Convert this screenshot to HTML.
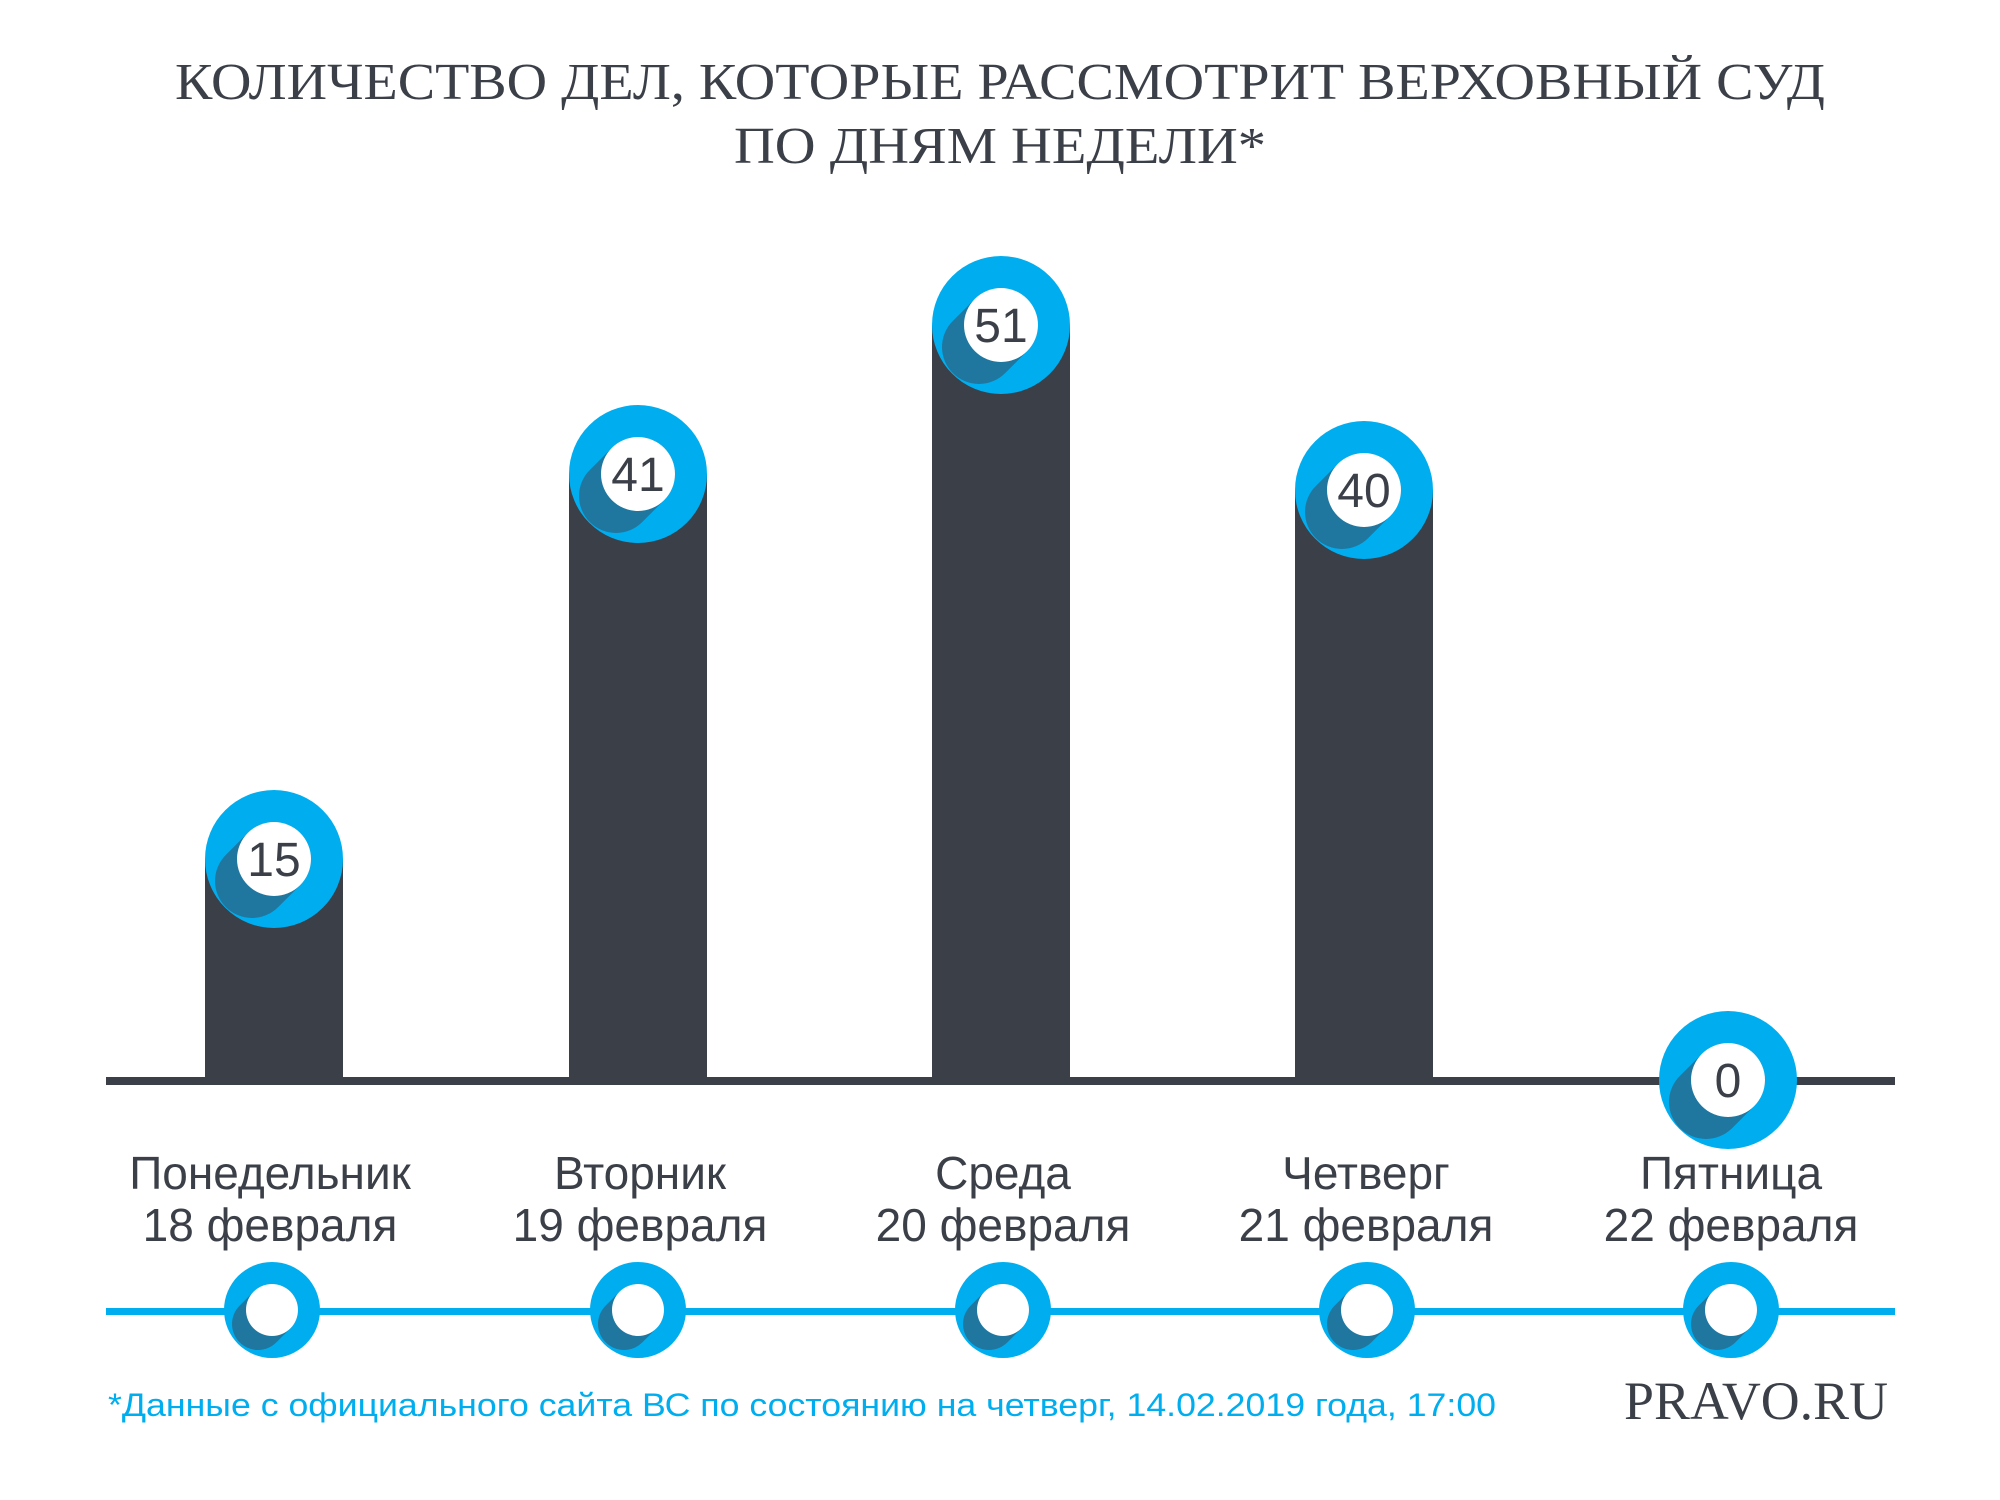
<!DOCTYPE html>
<html><head><meta charset="utf-8"><style>html,body{margin:0;padding:0;background:#fff}svg{display:block}</style></head>
<body>
<svg width="2000" height="1500" viewBox="0 0 2000 1500" xmlns="http://www.w3.org/2000/svg">
<defs>
<clipPath id="c1"><circle cx="274" cy="862" r="69"/></clipPath>
<clipPath id="c2"><circle cx="638" cy="477" r="69"/></clipPath>
<clipPath id="c3"><circle cx="1001" cy="328" r="69"/></clipPath>
<clipPath id="c4"><circle cx="1364" cy="493" r="69"/></clipPath>
<clipPath id="c5"><circle cx="1728" cy="1083" r="69"/></clipPath>
<clipPath id="s1"><circle cx="272" cy="1313" r="48"/></clipPath>
<clipPath id="s2"><circle cx="638" cy="1313" r="48"/></clipPath>
<clipPath id="s3"><circle cx="1003" cy="1313" r="48"/></clipPath>
<clipPath id="s4"><circle cx="1367" cy="1313" r="48"/></clipPath>
<clipPath id="s5"><circle cx="1731" cy="1313" r="48"/></clipPath>
</defs>
<g font-family="Liberation Serif, serif" fill="#3b3f48" font-size="52" text-anchor="middle">
<text x="1000" y="99" textLength="1650" lengthAdjust="spacingAndGlyphs">КОЛИЧЕСТВО ДЕЛ, КОТОРЫЕ РАССМОТРИТ ВЕРХОВНЫЙ СУД</text>
<text x="1000" y="163" textLength="532" lengthAdjust="spacingAndGlyphs">ПО ДНЯМ НЕДЕЛИ*</text>
</g>
<g transform="translate(0,-3)">
<g fill="#3b3f48">
<rect x="205" y="862" width="138" height="222"/>
<rect x="569" y="477" width="138" height="607"/>
<rect x="932" y="328" width="138" height="756"/>
<rect x="1295" y="493" width="138" height="591"/>
<rect x="106" y="1080" width="1789" height="8"/>
</g>
<rect x="106" y="1311" width="1789" height="7" fill="#00aeef"/>
<g>
<g><circle cx="274" cy="862" r="69" fill="#00aeef"/><line x1="274" y1="862" x2="252" y2="884" stroke="#1f77a0" stroke-width="74" stroke-linecap="round" clip-path="url(#c1)"/><circle cx="274" cy="862" r="37" fill="#fff"/></g>
<g><circle cx="638" cy="477" r="69" fill="#00aeef"/><line x1="638" y1="477" x2="616" y2="499" stroke="#1f77a0" stroke-width="74" stroke-linecap="round" clip-path="url(#c2)"/><circle cx="638" cy="477" r="37" fill="#fff"/></g>
<g><circle cx="1001" cy="328" r="69" fill="#00aeef"/><line x1="1001" y1="328" x2="979" y2="350" stroke="#1f77a0" stroke-width="74" stroke-linecap="round" clip-path="url(#c3)"/><circle cx="1001" cy="328" r="37" fill="#fff"/></g>
<g><circle cx="1364" cy="493" r="69" fill="#00aeef"/><line x1="1364" y1="493" x2="1342" y2="515" stroke="#1f77a0" stroke-width="74" stroke-linecap="round" clip-path="url(#c4)"/><circle cx="1364" cy="493" r="37" fill="#fff"/></g>
<g><circle cx="1728" cy="1083" r="69" fill="#00aeef"/><line x1="1728" y1="1083" x2="1706" y2="1105" stroke="#1f77a0" stroke-width="74" stroke-linecap="round" clip-path="url(#c5)"/><circle cx="1728" cy="1083" r="37" fill="#fff"/></g>
</g>
<g>
<g><circle cx="272" cy="1313" r="48" fill="#00aeef"/><line x1="272" y1="1313" x2="258" y2="1327" stroke="#1f77a0" stroke-width="52" stroke-linecap="round" clip-path="url(#s1)"/><circle cx="272" cy="1313" r="26" fill="#fff"/></g>
<g><circle cx="638" cy="1313" r="48" fill="#00aeef"/><line x1="638" y1="1313" x2="624" y2="1327" stroke="#1f77a0" stroke-width="52" stroke-linecap="round" clip-path="url(#s2)"/><circle cx="638" cy="1313" r="26" fill="#fff"/></g>
<g><circle cx="1003" cy="1313" r="48" fill="#00aeef"/><line x1="1003" y1="1313" x2="989" y2="1327" stroke="#1f77a0" stroke-width="52" stroke-linecap="round" clip-path="url(#s3)"/><circle cx="1003" cy="1313" r="26" fill="#fff"/></g>
<g><circle cx="1367" cy="1313" r="48" fill="#00aeef"/><line x1="1367" y1="1313" x2="1353" y2="1327" stroke="#1f77a0" stroke-width="52" stroke-linecap="round" clip-path="url(#s4)"/><circle cx="1367" cy="1313" r="26" fill="#fff"/></g>
<g><circle cx="1731" cy="1313" r="48" fill="#00aeef"/><line x1="1731" y1="1313" x2="1717" y2="1327" stroke="#1f77a0" stroke-width="52" stroke-linecap="round" clip-path="url(#s5)"/><circle cx="1731" cy="1313" r="26" fill="#fff"/></g>
</g>
<g font-family="Liberation Sans, sans-serif" font-size="48" fill="#3b3f48" text-anchor="middle">
<text x="274" y="879">15</text>
<text x="638" y="494">41</text>
<text x="1001" y="345">51</text>
<text x="1364" y="510">40</text>
<text x="1728" y="1100">0</text>
</g>
<g font-family="Liberation Sans, sans-serif" font-size="46" fill="#3b3f48" text-anchor="middle">
<text x="270" y="1192">Понедельник</text><text x="270" y="1244">18 февраля</text>
<text x="640" y="1192">Вторник</text><text x="640" y="1244">19 февраля</text>
<text x="1003" y="1192">Среда</text><text x="1003" y="1244">20 февраля</text>
<text x="1366" y="1192">Четверг</text><text x="1366" y="1244">21 февраля</text>
<text x="1731" y="1192">Пятница</text><text x="1731" y="1244">22 февраля</text>
</g>
</g>
<text x="108" y="1416" font-family="Liberation Sans, sans-serif" font-size="32" fill="#00aeef" textLength="1388" lengthAdjust="spacingAndGlyphs">*Данные с официального сайта ВС по состоянию на четверг, 14.02.2019 года, 17:00</text>
<text x="1624" y="1419" font-family="Liberation Serif, serif" font-size="54" fill="#3b3f48" textLength="264" lengthAdjust="spacingAndGlyphs">PRAVO.RU</text>
</svg>
</body></html>
